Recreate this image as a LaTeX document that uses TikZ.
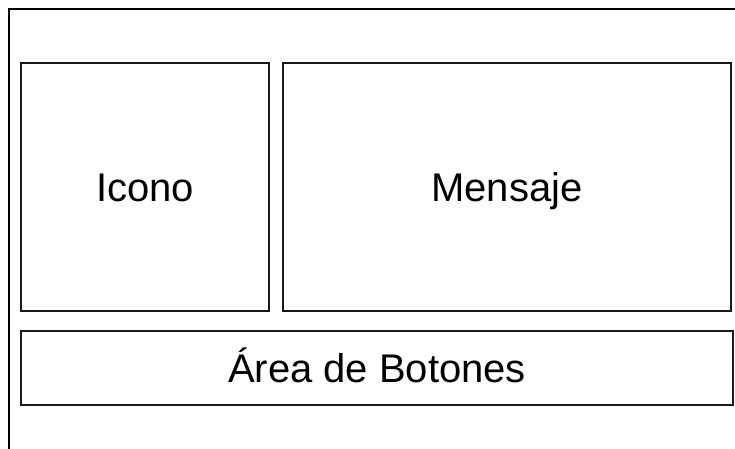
\documentclass[tikz,border=0pt]{standalone}
\usepackage{fontspec}
\setmainfont{Liberation Sans}
\tikzset{
  panel/.style={draw=black!90, line width=2pt, rectangle, inner sep=0pt,
    font=\fontsize{40}{48}\selectfont, text height=28.6pt, text depth=0pt},
  frame/.style={draw=black, line width=2pt}
}
\begin{document}
\begin{tikzpicture}[x=1pt,y=-1pt]
\useasboundingbox (0,0) rectangle (735,449);
\clip (0,0) rectangle (735,449);
\coordinate (fbl) at (9,452);
\coordinate (ftl) at (9,9);
\coordinate (ftr) at (738,9);
\draw[frame] (fbl) -- (ftl) -- (ftr);
\node[panel, minimum width=248pt, minimum height=247.5pt] (icono) at (145,186.75) {Icono};
\node[panel, minimum width=448pt, minimum height=247.5pt] (mensaje) at (507,186.75) {Mensaje};
\node[panel, minimum width=712pt, minimum height=74pt] (botones) at (377,368) {Área de Botones};
\end{tikzpicture}
\end{document}
